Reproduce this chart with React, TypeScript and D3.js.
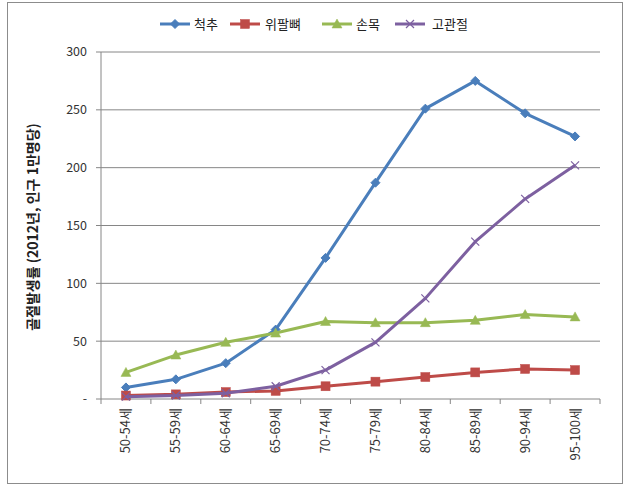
import React from "react";
import * as d3 from "d3";

const categories = ["50-54세", "55-59세", "60-64세", "65-69세", "70-74세", "75-79세", "80-84세", "85-89세", "90-94세", "95-100세"];
const spine = [10, 17, 31, 60, 122, 187, 251, 275, 247, 227];
const arm = [3, 4, 6, 7, 11, 15, 19, 23, 26, 25];
const wrist = [23, 38, 49, 57, 67, 66, 66, 68, 73, 71];
const hip = [2, 3, 5, 11, 25, 49, 87, 136, 173, 202];
const seriesNames = ["척추", "위팔뼈", "손목", "고관절"];
const yTicks = [0, 50, 100, 150, 200, 250, 300];

const colors = ["#4A7EBB", "#BE4B48", "#98B954", "#7D60A0"];
const markers = ["diamond", "square", "triangle", "x"];
const FONT = "'Noto Sans CJK KR', 'Noto Sans', sans-serif";

function Marker({ type, x, y, color }: { type: string; x: number; y: number; color: string }) {
  if (type === "diamond") {
    const s = 4.5;
    return <path d={`M${x},${y - s}L${x + s},${y}L${x},${y + s}L${x - s},${y}Z`} fill={color} stroke={color} strokeWidth={1} />;
  }
  if (type === "square") {
    const s = 4.5;
    return <rect x={x - s} y={y - s} width={2 * s} height={2 * s} fill={color} stroke={color} strokeWidth={0.5} />;
  }
  if (type === "triangle") {
    const s = 5;
    return <path d={`M${x},${y - s}L${x + s},${y + s * 0.8}L${x - s},${y + s * 0.8}Z`} fill={color} stroke={color} strokeWidth={0.5} />;
  }
  const s = 4;
  return (
    <path d={`M${x - s},${y - s}L${x + s},${y + s}M${x - s},${y + s}L${x + s},${y - s}`} stroke={color} strokeWidth={1.2} fill="none" />
  );
}

export default function App() {
  const W = 631, H = 492;
  const left = 101, right = 600, top = 52, bottom = 399;
  const x = d3.scaleBand<string>().domain(categories).range([left, right]);
  const y = d3.scaleLinear().domain([0, 300]).range([bottom, top]);
  const data = [spine, arm, wrist, hip];
  const line = d3
    .line<number>()
    .x((_, i) => (x(categories[i]) as number) + x.bandwidth() / 2)
    .y((d) => y(d));

  const legendItems = [
    { lx: 160, tx: 194 },
    { lx: 230, tx: 265 },
    { lx: 322, tx: 356 },
    { lx: 395, tx: 432 },
  ];
  const ly = 24;

  return (
    <svg width={W} height={H} style={{ position: "absolute", left: 0, top: 0 }} fontFamily={FONT}>
      <rect x={0} y={0} width={W} height={H} fill="#fff" />
      <rect x={7.5} y={2.5} width={615} height={481} fill="#fff" stroke="#8c8c8c" strokeWidth={1} />
      {yTicks.map((t) => (
        <g key={t}>
          {t > 0 && <line x1={left} x2={right} y1={y(t)} y2={y(t)} stroke="#868686" strokeWidth={1} />}
          <line x1={left - 5} x2={left} y1={y(t)} y2={y(t)} stroke="#868686" strokeWidth={1} />
          <text x={87} y={y(t)} dy="0.35em" textAnchor="end" fontSize={12.5} fill="#333">
            {t === 0 ? "-" : t}
          </text>
        </g>
      ))}
      <line x1={left} x2={left} y1={top} y2={bottom} stroke="#868686" strokeWidth={1} />
      <line x1={left} x2={right} y1={bottom} y2={bottom} stroke="#868686" strokeWidth={1} />
      {categories.map((c, i) => (
        <line key={"tk" + i} x1={(x(c) as number) + x.bandwidth()} x2={(x(c) as number) + x.bandwidth()} y1={bottom} y2={bottom + 5} stroke="#868686" />
      ))}
      <line x1={left} x2={left} y1={bottom} y2={bottom + 5} stroke="#868686" />
      {categories.map((c) => {
        const cx = (x(c) as number) + x.bandwidth() / 2;
        return (
          <text key={c} transform={`translate(${cx + 4.5},408) rotate(-90)`} textAnchor="end" fontSize={13} fill="#333">
            {c}
          </text>
        );
      })}
      <text transform={`translate(38,227) rotate(-90)`} textAnchor="middle" fontSize={14} fontWeight="bold" fill="#222">
        골절발생률 (2012년, 인구 1만명당)
      </text>
      {data.map((d, si) => (
        <g key={si}>
          <path d={line(d) as string} fill="none" stroke={colors[si]} strokeWidth={3} strokeLinejoin="round" />
          {d.map((v, i) => (
            <Marker key={i} type={markers[si]} x={(x(categories[i]) as number) + x.bandwidth() / 2} y={y(v)} color={colors[si]} />
          ))}
        </g>
      ))}
      {seriesNames.map((n, i) => (
        <g key={n}>
          <line x1={legendItems[i].lx} x2={legendItems[i].lx + 30} y1={ly} y2={ly} stroke={colors[i]} strokeWidth={3} />
          <Marker type={markers[i]} x={legendItems[i].lx + 15} y={ly} color={colors[i]} />
          <text x={legendItems[i].tx} y={ly} dy="0.35em" fontSize={13} fill="#222">
            {n}
          </text>
        </g>
      ))}
    </svg>
  );
}
